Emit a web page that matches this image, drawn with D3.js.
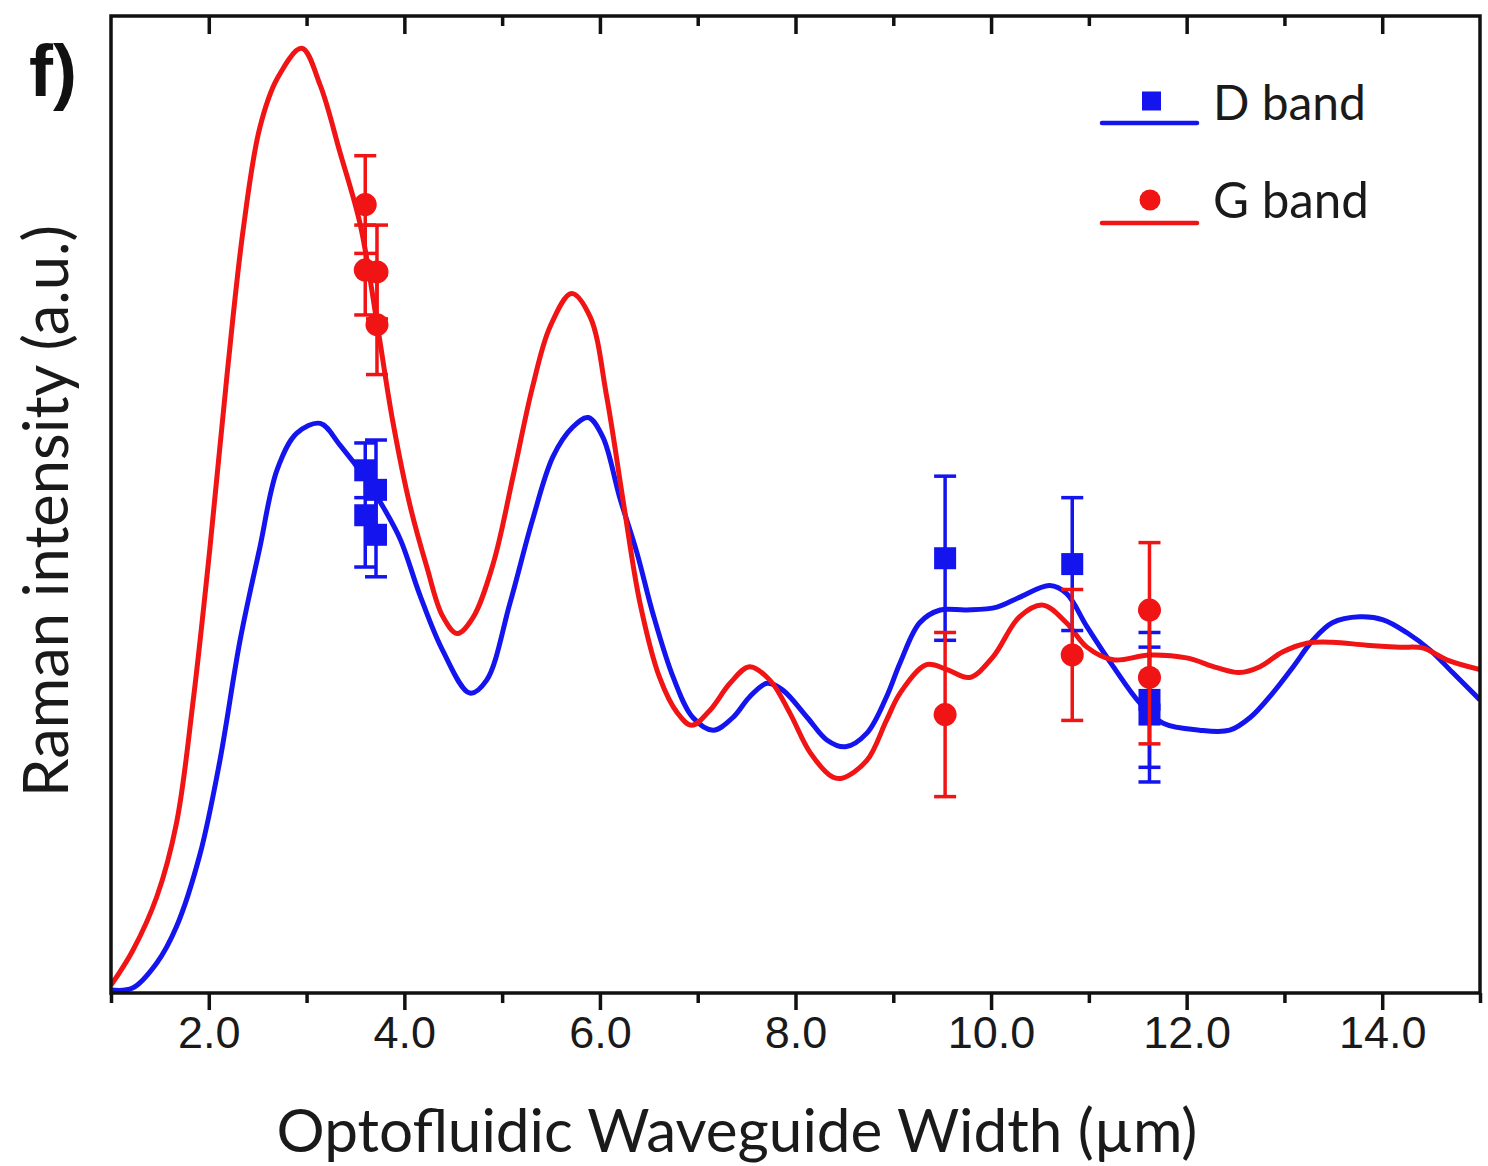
<!DOCTYPE html>
<html>
<head>
<meta charset="utf-8">
<script src="https://cdn.jsdelivr.net/npm/d3@7"></script>
<style>
  body { margin: 0; background: #fff; }
  svg { display: block; }
</style>
</head>
<body>
<svg id="chart" width="1488" height="1166"></svg>
<script>
// ---- data ----
const panelLabel = "f)";
const xTitle = "Optofluidic Waveguide Width (\u00b5m)";
const yTitle = "Raman intensity (a.u.)";
const seriesNames = ["D band", "G band"];

const xMajorTicks = [2, 4, 6, 8, 10, 12, 14];
const xMinorTicks = [1, 3, 5, 7, 9, 11, 13, 15];
const xTickLabels = ["2.0", "4.0", "6.0", "8.0", "10.0", "12.0", "14.0"];

// simulated G band response (width in µm, intensity in a.u.)
const gFitWidth = [1.00,1.22,1.47,1.67,1.84,2.01,2.19,2.35,2.52,2.70,2.95,3.14,3.34,3.55,3.72,3.88,4.06,4.23,4.39,4.54,4.70,4.91,5.11,5.31,5.49,5.71,5.90,6.07,6.24,6.41,6.61,6.79,6.94,7.13,7.33,7.53,7.74,7.94,8.15,8.38,8.48,8.73,8.93,9.07,9.34,9.55,9.78,10.02,10.29,10.53,10.77,10.98,11.25,11.62,12.00,12.31,12.54,12.75,12.98,13.23,13.49,13.84,14.18,14.42,14.66,15.00];
const gFitIntensity = [0.8,4.3,9.9,17.4,29.9,45.4,63.6,78.0,88.5,93.6,96.7,92.9,86.1,78.6,68.6,58.6,49.8,43.6,38.6,36.8,38.4,44.0,52.8,62.0,68.2,71.6,69.2,61.0,50.2,39.9,32.3,28.7,27.4,29.0,31.7,33.4,32.0,28.7,24.6,22.1,22.0,23.8,27.9,30.7,33.6,33.1,32.3,34.4,38.5,39.7,37.9,35.4,34.1,34.6,34.3,33.3,32.8,33.4,34.9,35.8,35.9,35.6,35.4,35.3,34.1,33.1];

// simulated D band response
const dFitWidth = [1.00,1.22,1.47,1.67,1.91,2.11,2.32,2.52,2.70,2.90,3.14,3.34,3.62,3.78,3.96,4.16,4.39,4.67,4.84,5.08,5.31,5.52,5.72,5.88,6.03,6.20,6.38,6.54,6.75,6.95,7.16,7.36,7.53,7.71,7.87,8.12,8.32,8.51,8.73,8.93,9.07,9.27,9.48,9.75,10.06,10.29,10.60,10.77,10.98,11.25,11.52,11.76,12.13,12.44,12.65,12.88,13.09,13.29,13.49,13.77,14.01,14.25,14.49,14.72,15.00];
const dFitIntensity = [0.3,0.5,3.1,6.8,14.2,23.6,36.1,45.5,53.6,57.3,58.3,56.1,52.4,49.8,46.4,40.7,35.1,30.7,32.0,39.9,48.4,54.9,57.9,58.9,56.9,50.8,45.0,38.9,32.3,28.2,26.9,28.2,30.3,31.7,31.0,28.2,25.9,25.2,26.6,30.3,33.8,37.9,39.2,39.2,39.5,40.5,41.7,40.9,37.5,33.4,29.7,27.6,26.9,26.9,28.2,30.7,33.4,36.1,37.9,38.5,38.2,36.9,35.1,32.8,30.0];

// measured G band points with error
const gMeasWidth = [3.60, 3.60, 3.72, 3.72, 9.53, 10.83, 11.62, 11.62];
const gMeasIntensity = [80.7, 74.0, 73.8, 68.4, 28.5, 34.6, 39.2, 32.3];
const gMeasError = [5.0, 4.6, 4.8, 5.1, 8.4, 6.7, 6.9, 6.8];

// measured D band points with error
const dMeasWidth = [3.60, 3.60, 3.71, 3.71, 9.53, 10.83, 11.62, 11.62];
const dMeasIntensity = [53.5, 48.9, 51.5, 46.9, 44.5, 43.9, 30.0, 28.5];
const dMeasError = [2.8, 5.3, 5.1, 4.3, 8.4, 6.8, 6.9, 6.9];

// ---- layout ----
const RED = "#f01414";
const BLUE = "#1414ee";
const plot = { left: 111, right: 1480, top: 16, bottom: 993 };

const svg = d3.select("#chart");
const x = d3.scaleLinear().domain([1, 15]).range([plot.left, plot.right]);
const y = d3.scaleLinear().domain([0, 100]).range([plot.bottom, plot.top]);

const zip = (xs, ys) => xs.map((v, i) => ({ x: v, y: ys[i] }));

svg.append("defs").append("clipPath").attr("id", "plotClip")
  .append("rect")
  .attr("x", plot.left).attr("y", plot.top)
  .attr("width", plot.right - plot.left).attr("height", plot.bottom - plot.top);

const line = d3.line()
  .x(d => x(d.x)).y(d => y(d.y))
  .curve(d3.curveCatmullRom.alpha(0.5));

const curves = svg.append("g").attr("clip-path", "url(#plotClip)");
curves.append("path")
  .datum(zip(dFitWidth, dFitIntensity))
  .attr("d", line).attr("fill", "none")
  .attr("stroke", BLUE).attr("stroke-width", 5).attr("stroke-linejoin", "round");
curves.append("path")
  .datum(zip(gFitWidth, gFitIntensity))
  .attr("d", line).attr("fill", "none")
  .attr("stroke", RED).attr("stroke-width", 5).attr("stroke-linejoin", "round");

// error bars + markers
function drawMeasured(xs, ys, es, color, shape) {
  const g = svg.append("g");
  const pts = xs.map((v, i) => ({ x: v, y: ys[i], e: es[i] }));
  const capHalf = 11;
  pts.forEach(p => {
    const cx = x(p.x), y0 = y(p.y - p.e), y1 = y(p.y + p.e);
    g.append("line").attr("x1", cx).attr("x2", cx).attr("y1", y0).attr("y2", y1)
      .attr("stroke", color).attr("stroke-width", 3.5);
    [y0, y1].forEach(yy => g.append("line")
      .attr("x1", cx - capHalf).attr("x2", cx + capHalf).attr("y1", yy).attr("y2", yy)
      .attr("stroke", color).attr("stroke-width", 3.5));
  });
  pts.forEach(p => {
    if (shape === "square") {
      g.append("rect").attr("x", x(p.x) - 11).attr("y", y(p.y) - 11)
        .attr("width", 22).attr("height", 22).attr("fill", color);
    } else {
      g.append("circle").attr("cx", x(p.x)).attr("cy", y(p.y)).attr("r", 11.5).attr("fill", color);
    }
  });
}
drawMeasured(dMeasWidth, dMeasIntensity, dMeasError, BLUE, "square");
drawMeasured(gMeasWidth, gMeasIntensity, gMeasError, RED, "circle");

// ---- frame and ticks ----
const axisG = svg.append("g");
axisG.append("rect")
  .attr("x", plot.left).attr("y", plot.top)
  .attr("width", plot.right - plot.left).attr("height", plot.bottom - plot.top)
  .attr("fill", "none").attr("stroke", "#111").attr("stroke-width", 3.5);

const bottomMajor = d3.axisBottom(x).tickValues(xMajorTicks).tickSize(17)
  .tickFormat((d, i) => xTickLabels[i]).tickSizeOuter(0);
const bottomAxis = axisG.append("g")
  .attr("transform", `translate(0,${plot.bottom})`).call(bottomMajor);
bottomAxis.select(".domain").remove();
bottomAxis.selectAll(".tick line").attr("stroke", "#111").attr("stroke-width", 3.5);
bottomAxis.selectAll(".tick text")
  .attr("font-family", "'Liberation Sans', Arial, sans-serif")
  .attr("font-size", 45).attr("fill", "#1a1a1a")
  .attr("y", 0).attr("dy", 0)
  .attr("transform", "translate(0,55)");

const bottomMinor = d3.axisBottom(x).tickValues(xMinorTicks).tickSize(10)
  .tickFormat("").tickSizeOuter(0);
const bm = axisG.append("g").attr("transform", `translate(0,${plot.bottom})`).call(bottomMinor);
bm.select(".domain").remove();
bm.selectAll(".tick line").attr("stroke", "#111").attr("stroke-width", 3.5);

// top ticks point inward
const topMajor = d3.axisBottom(x).tickValues(xMajorTicks).tickSize(18).tickFormat("").tickSizeOuter(0);
const tM = axisG.append("g").attr("transform", `translate(0,${plot.top})`).call(topMajor);
tM.select(".domain").remove();
tM.selectAll(".tick line").attr("stroke", "#111").attr("stroke-width", 3.5);
const topMinor = d3.axisBottom(x).tickValues(xMinorTicks.filter(v => v > 1 && v < 15))
  .tickSize(10).tickFormat("").tickSizeOuter(0);
const tm = axisG.append("g").attr("transform", `translate(0,${plot.top})`).call(topMinor);
tm.select(".domain").remove();
tm.selectAll(".tick line").attr("stroke", "#111").attr("stroke-width", 3.5);

// ---- titles ----
const titleFont = "Lato, 'Open Sans', sans-serif";
function fitText(sel, targetWidth) {
  const w = sel.node().getComputedTextLength();
  const fs = parseFloat(sel.attr("font-size"));
  sel.attr("font-size", fs * targetWidth / w);
}

const xt = svg.append("text")
  .attr("x", 737).attr("y", 1152)
  .attr("text-anchor", "middle")
  .attr("font-family", titleFont).attr("font-size", 50).attr("fill", "#1a1a1a")
  .text(xTitle);
fitText(xt, 921);

const yt = svg.append("text")
  .attr("transform", "translate(68,511) rotate(-90)")
  .attr("text-anchor", "middle")
  .attr("font-family", titleFont).attr("font-size", 50).attr("fill", "#1a1a1a")
  .text(yTitle);
fitText(yt, 572);

svg.append("text")
  .attr("x", 29).attr("y", 96)
  .attr("font-family", "'Liberation Sans', Arial, sans-serif")
  .attr("font-weight", "bold").attr("font-size", 72).attr("fill", "#111")
  .text(panelLabel);

// ---- legend ----
const legend = svg.append("g");
const legendRows = [
  { name: seriesNames[0], color: BLUE, shape: "square", lineY: 123, markY: 101, textY: 120 },
  { name: seriesNames[1], color: RED, shape: "circle", lineY: 223, markY: 200, textY: 218 }
];
legendRows.forEach(r => {
  legend.append("line").attr("x1", 1102).attr("x2", 1197).attr("y1", r.lineY).attr("y2", r.lineY)
    .attr("stroke", r.color).attr("stroke-width", 4.5).attr("stroke-linecap", "round");
  if (r.shape === "square") {
    legend.append("rect").attr("x", 1142).attr("y", r.markY - 9.5).attr("width", 19).attr("height", 19).attr("fill", r.color);
  } else {
    legend.append("circle").attr("cx", 1150).attr("cy", r.markY).attr("r", 10.5).attr("fill", r.color);
  }
  const t = legend.append("text").attr("x", 1213).attr("y", r.textY)
    .attr("font-family", titleFont).attr("font-size", 48).attr("fill", "#1a1a1a")
    .text(r.name);
  fitText(t, r.name === seriesNames[0] ? 153 : 156);
});
</script>
</body>
</html>
